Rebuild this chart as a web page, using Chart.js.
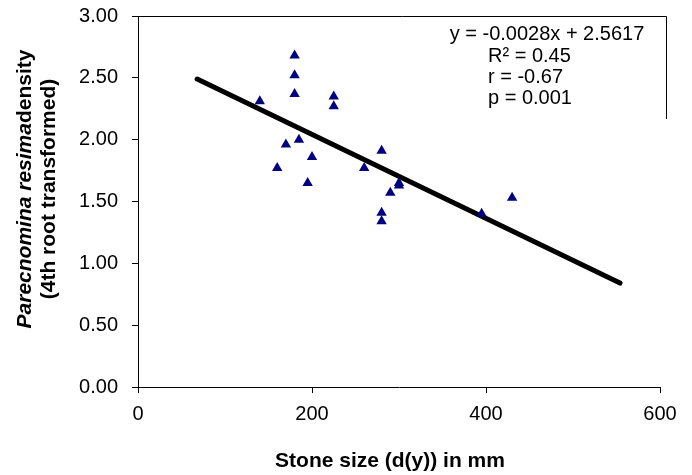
<!DOCTYPE html>
<html lang="en">
  <head>
    <meta charset="UTF-8" />
    <title>Stone size vs density</title>
    <script src="https://cdn.jsdelivr.net/npm/chart.js"></script>
    <style>
      body { margin: 0; background: #fff; }
      #wrap { width: 692px; height: 475px; }
    </style>
  </head>
  <body>
    <div id="wrap"><canvas id="myChart" width="692" height="475"></canvas></div>

    <script>
      // stone size (mm) and 4th root transformed density
      const stoneSize = [140, 180, 180, 180, 225, 225, 170, 185, 160, 200, 195, 260, 280, 300, 300, 290, 280, 280, 395, 430];
      const density = [2.31, 2.68, 2.52, 2.37, 2.35, 2.27, 1.96, 2.00, 1.77, 1.86, 1.65, 1.77, 1.91, 1.65, 1.63, 1.57, 1.41, 1.34, 1.40, 1.53];

      // fitted line as drawn
      const trendX = [68, 554];
      const trendY = [2.49, 0.84];

      const statLines = ["y = -0.0028x + 2.5617", "R\u00b2 = 0.45", "r = -0.67", "p = 0.001"];
      const xTitle = "Stone size (d(y)) in mm";
      const yTitleItalic = "Parecnomina resima";
      const yTitleRest = "density";
      const yTitle2 = "(4th root transformed)";

      const font = "'Liberation Sans', Arial, sans-serif";

      const extras = {
        id: "extras",
        afterDraw(chart) {
          const c = chart.ctx;
          const a = chart.chartArea;
          c.save();
          // plot frame top + text box right edge
          c.strokeStyle = "#000";
          c.lineWidth = 1;
          c.beginPath();
          c.moveTo(a.left, a.top + 0.5);
          c.lineTo(666.5, a.top + 0.5);
          c.lineTo(666.5, 119);
          c.stroke();

          c.fillStyle = "#000";
          c.font = "20px " + font;
          c.textBaseline = "middle";
          c.textAlign = "center";
          c.fillText(statLines[0], 547, 34);
          c.textAlign = "left";
          c.fillText(statLines[1], 488, 56);
          c.fillText(statLines[2], 488, 77);
          c.fillText(statLines[3], 488, 98);

          // x title
          c.font = "bold 21px " + font;
          c.textAlign = "center";
          c.fillText(xTitle, 390, 461);

          // y title, two rotated lines
          c.translate(25, 189);
          c.rotate(-Math.PI / 2);
          c.font = "italic bold 21px " + font;
          const w1 = c.measureText(yTitleItalic).width;
          c.font = "bold 21px " + font;
          const w2 = c.measureText(yTitleRest).width;
          c.textAlign = "left";
          c.font = "italic bold 21px " + font;
          c.fillText(yTitleItalic, -(w1 + w2) / 2, 0);
          c.font = "bold 21px " + font;
          c.fillText(yTitleRest, -(w1 + w2) / 2 + w1, 0);
          c.textAlign = "center";
          c.fillText(yTitle2, 0, 24);
          c.restore();
        },
      };

      const ctx = document.getElementById("myChart").getContext("2d");
      new Chart(ctx, {
        type: "scatter",
        data: {
          datasets: [
            {
              data: stoneSize.map((x, i) => ({ x: x, y: density[i] })),
              pointStyle: "triangle",
              pointRadius: 6,
              pointBackgroundColor: "#000080",
              pointBorderColor: "#000080",
              pointBorderWidth: 0,
            },
            {
              type: "line",
              data: trendX.map((x, i) => ({ x: x, y: trendY[i] })),
              borderColor: "#000",
              borderWidth: 5,
              pointRadius: 0,
              borderCapStyle: "round",
            },
          ],
        },
        options: {
          responsive: false,
          animation: false,
          layout: { padding: { top: 16, right: 32, left: 0, bottom: 0 } },
          plugins: { legend: { display: false }, tooltip: { enabled: false } },
          scales: {
            x: {
              type: "linear",
              min: 0,
              max: 600,
              ticks: { stepSize: 200, color: "#000", padding: 9, font: { family: font, size: 20 } },
              grid: { drawOnChartArea: false, tickLength: 6, color: "#000" },
              border: { color: "#000" },
              afterFit: (s) => { s.height = 88; },
            },
            y: {
              min: 0,
              max: 3,
              ticks: {
                stepSize: 0.5,
                color: "#000",
                padding: 14,
                font: { family: font, size: 20 },
                callback: (v) => v.toFixed(2),
              },
              grid: { drawOnChartArea: false, tickLength: 6, color: "#000" },
              border: { color: "#000" },
              afterFit: (s) => {
                s.width = 138;
                // keep the plot top at the layout padding
                s.paddingTop = 0;
                s.paddingBottom = 0;
              },
            },
          },
        },
        plugins: [extras],
      });
    </script>
  </body>
</html>
